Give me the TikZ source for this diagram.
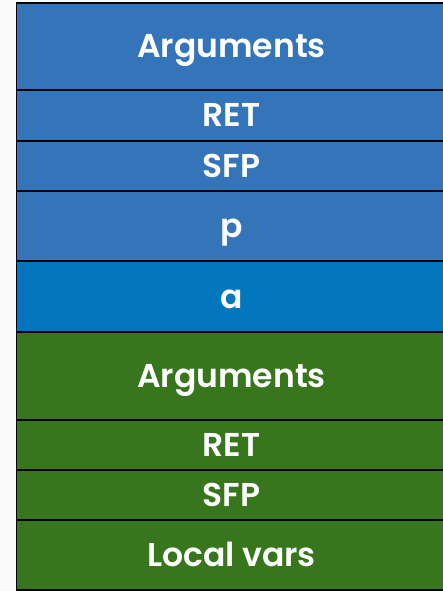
\documentclass[tikz,border=0pt]{standalone}
\usepackage{fontspec}
\setmainfont{Poppins}[BoldFont={* SemiBold}]
\definecolor{pagebg}{HTML}{FAFAFA}
\definecolor{callerblue}{HTML}{3375B8}
\definecolor{localblue}{HTML}{0277BD}
\definecolor{calleegreen}{HTML}{38761D}
\begin{document}
\begin{tikzpicture}[x=1pt,y=-1pt,
  cell/.style={draw=black, line width=1.5pt, minimum width=430pt,
    inner sep=0pt, outer sep=0pt, text=white, anchor=north west,
    text height=23pt, text depth=0pt,
    font=\bfseries\fontsize{33}{36}\selectfont},
  caller/.style={cell, fill=callerblue},
  callee/.style={cell, fill=calleegreen}]
  \fill[pagebg] (0,0) rectangle (442,591);
  \useasboundingbox (0,0) rectangle (442,591);
  % caller frame
  \node[caller, minimum height=87pt] (args1) at (16.5,3) {Arguments};
  \node[caller, minimum height=51pt] (ret1) at (args1.south west) {RET};
  \node[caller, minimum height=50pt] (sfp1) at (ret1.south west) {SFP};
  \node[caller, minimum height=70pt] (p) at (sfp1.south west) {p};
  \node[cell, fill=localblue, minimum height=71pt] (a) at (p.south west) {a};
  % callee frame
  \node[callee, minimum height=88pt] (args2) at (a.south west) {Arguments};
  \node[callee, minimum height=50pt] (ret2) at (args2.south west) {RET};
  \node[callee, minimum height=50pt] (sfp2) at (ret2.south west) {SFP};
  \node[callee, minimum height=70pt] (locals) at (sfp2.south west) {Local vars};
\end{tikzpicture}
\end{document}
